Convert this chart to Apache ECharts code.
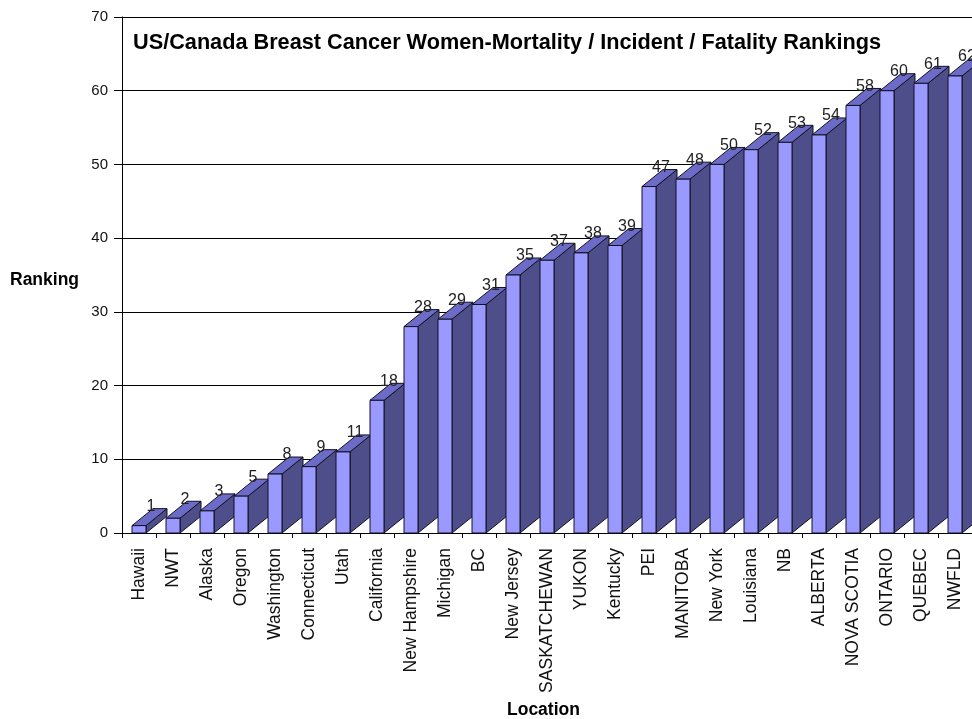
<!DOCTYPE html>
<html>
<head>
<meta charset="utf-8">
<script src="https://cdn.jsdelivr.net/npm/echarts@6/dist/echarts.min.js"></script>
<style>
  html, body { margin: 0; padding: 0; background: #fff; }
  #chart { width: 972px; height: 719px; }
</style>
</head>
<body>
<div id="chart"></div>
<script>
// Locations, ordered by ranking
const locations = [
  'Hawaii', 'NWT', 'Alaska', 'Oregon', 'Washington', 'Connecticut', 'Utah',
  'California', 'New Hampshire', 'Michigan', 'BC', 'New Jersey', 'SASKATCHEWAN',
  'YUKON', 'Kentucky', 'PEI', 'MANITOBA', 'New York', 'Louisiana', 'NB',
  'ALBERTA', 'NOVA SCOTIA', 'ONTARIO', 'QUEBEC', 'NWFLD'
];
// Ranking value for each location
const rankings = [
  1, 2, 3, 5, 8, 9, 11, 18, 28, 29, 31, 35, 37, 38, 39, 47, 48, 50, 52, 53,
  54, 58, 60, 61, 62
];
const titleText = 'US/Canada Breast Cancer Women-Mortality / Incident / Fatality Rankings';
const yName = 'Ranking';
const xName = 'Location';

const FONT = 'Arial, "Liberation Sans", sans-serif';
const FRONT = '#9999FF';
const TOP = '#6C6CC8';
const SIDE = '#4E4E8A';
const EDGE = '#111122';
// extrusion of the 3D block (towards upper right)
const DEPTH_X = 21;
const DEPTH_Y = -17;
const FACE_W = 14;

function renderBar(params, api) {
  const idx = api.value(0);
  const val = api.value(1);
  const top = api.coord([idx, val]);
  const base = api.coord([idx, 0]);
  const x0 = top[0] - FACE_W / 2;
  const x1 = x0 + FACE_W;
  const yt = top[1];
  const yb = base[1];
  const edge = { stroke: EDGE, lineWidth: 1 };
  return {
    type: 'group',
    children: [
      {
        type: 'polygon',
        shape: { points: [[x1, yt], [x1 + DEPTH_X, yt + DEPTH_Y], [x1 + DEPTH_X, yb + DEPTH_Y], [x1, yb]] },
        style: Object.assign({ fill: SIDE }, edge)
      },
      {
        type: 'polygon',
        shape: { points: [[x0, yt], [x1, yt], [x1 + DEPTH_X, yt + DEPTH_Y], [x0 + DEPTH_X, yt + DEPTH_Y]] },
        style: Object.assign({ fill: TOP }, edge)
      },
      {
        type: 'rect',
        shape: { x: x0, y: yt, width: FACE_W, height: yb - yt },
        style: Object.assign({ fill: FRONT }, edge)
      },
      {
        type: 'text',
        x: top[0] + 12,
        y: yt - 19,
        style: {
          text: String(val),
          fill: '#222',
          font: '16px ' + FONT,
          align: 'center',
          verticalAlign: 'middle'
        }
      }
    ]
  };
}

const chart = echarts.init(document.getElementById('chart'), null, { renderer: 'canvas' });
chart.setOption({
  backgroundColor: '#ffffff',
  animation: false,
  title: [
    {
      text: titleText, left: 133, top: 32, padding: 0,
      textStyle: { fontFamily: FONT, fontSize: 21.7, fontWeight: 'bold', color: '#000' }
    },
    {
      text: yName, left: 10, top: 271, padding: 0,
      textStyle: { fontFamily: FONT, fontSize: 17.5, fontWeight: 'bold', color: '#000' }
    },
    {
      text: xName, left: 507, top: 701, padding: 0,
      textStyle: { fontFamily: FONT, fontSize: 17.5, fontWeight: 'bold', color: '#000' }
    }
  ],
  grid: { left: 122, right: 0, top: 17, bottom: 186, containLabel: false },
  xAxis: {
    type: 'category',
    data: locations,
    boundaryGap: true,
    axisLine: { lineStyle: { color: '#000', width: 1 } },
    axisTick: { show: true, length: 5, lineStyle: { color: '#000' } },
    axisLabel: {
      rotate: 90, interval: 0, margin: 15,
      fontFamily: FONT, fontSize: 17.5, color: '#111'
    },
    splitLine: { show: false }
  },
  yAxis: {
    type: 'value',
    min: 0, max: 70, interval: 10,
    axisLine: { show: true, lineStyle: { color: '#000', width: 1 } },
    axisTick: { show: true, length: 8, lineStyle: { color: '#000' } },
    axisLabel: { margin: 14, fontFamily: FONT, fontSize: 15, color: '#111' },
    splitLine: { show: true, lineStyle: { color: '#000', width: 1 } }
  },
  series: [{
    type: 'custom',
    renderItem: renderBar,
    clip: false,
    data: rankings.map((v, i) => [i, v]),
    encode: { x: 0, y: 1 }
  }]
});
</script>
</body>
</html>
